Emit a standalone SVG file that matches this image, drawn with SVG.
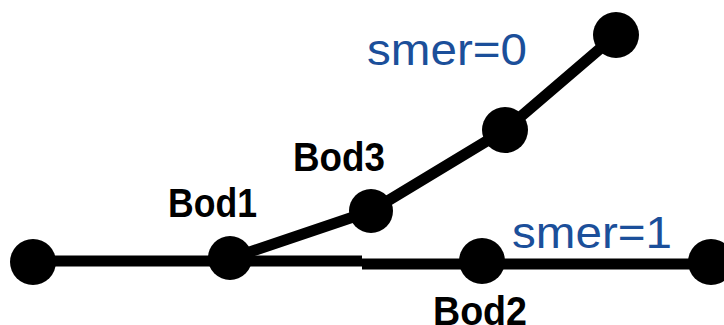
<svg xmlns="http://www.w3.org/2000/svg" width="724" height="325" viewBox="0 0 724 325">
  <style>
    .edge { stroke: #000; stroke-width: 11; fill: none; stroke-linejoin: round; }
    .pt { fill: #000; }
    .bod { font-family: "Liberation Sans", Arial, sans-serif; font-weight: bold; font-size: 40px; fill: #000; }
    .smer { font-family: "Liberation Sans", Arial, sans-serif; font-size: 44px; fill: #1b4f9a; }
  </style>
  <rect width="724" height="325" fill="#fff"/>

  <!-- connectors -->
  <g id="connectors">
    <polyline class="edge" points="33,261 362,261"/>
    <polyline class="edge" points="362,264 712,264"/>
    <polyline class="edge" points="232,258 371,211 505,130 616,35"/>
  </g>

  <!-- points -->
  <g id="start"><circle class="pt" cx="33" cy="262" r="23"/></g>
  <g id="bod1">
    <circle class="pt" cx="230" cy="258" r="22"/>
    <text class="bod" x="168" y="217" textLength="89" lengthAdjust="spacingAndGlyphs">Bod1</text>
  </g>
  <g id="bod2">
    <circle class="pt" cx="482" cy="261" r="23"/>
    <text class="bod" x="433" y="325" textLength="94" lengthAdjust="spacingAndGlyphs">Bod2</text>
  </g>
  <g id="end1"><circle class="pt" cx="711" cy="262" r="23"/></g>
  <g id="bod3">
    <circle class="pt" cx="371" cy="211" r="22"/>
    <text class="bod" x="293" y="171" textLength="92" lengthAdjust="spacingAndGlyphs">Bod3</text>
  </g>
  <g id="mid0"><circle class="pt" cx="505" cy="130" r="23"/></g>
  <g id="end0"><circle class="pt" cx="616" cy="35" r="23"/></g>

  <!-- direction labels -->
  <g id="smer1"><text class="smer" x="512" y="248" textLength="160" lengthAdjust="spacingAndGlyphs">smer=1</text></g>
  <g id="smer0"><text class="smer" x="367" y="65" textLength="160" lengthAdjust="spacingAndGlyphs">smer=0</text></g>
</svg>
